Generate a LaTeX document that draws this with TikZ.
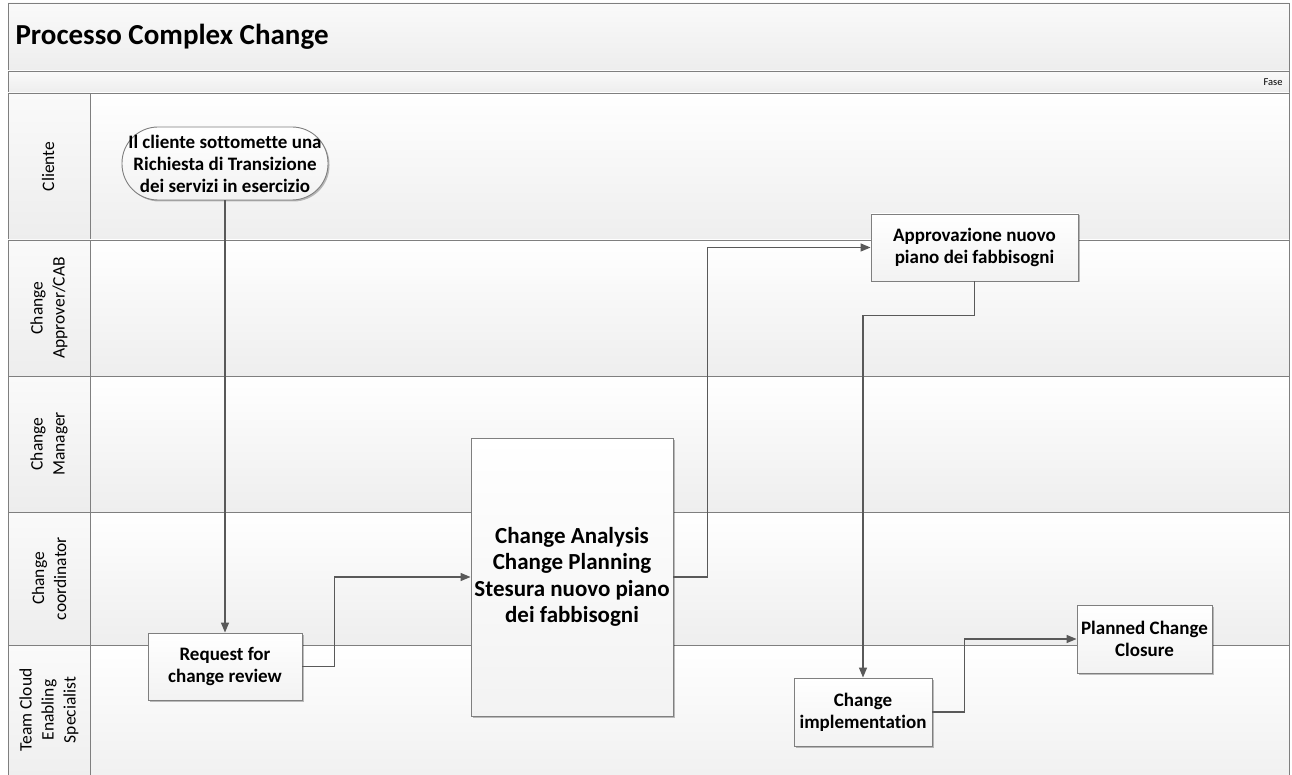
\documentclass[tikz,border=0pt]{standalone}
\usepackage{fontspec}
\setmainfont[Ligatures=NoCommon]{Carlito}
\usetikzlibrary{arrows.meta,shadows}
\definecolor{linec}{HTML}{595959}
\definecolor{borderc}{HTML}{7F7F7F}
\definecolor{lanebot}{HTML}{EEEEEE}
\definecolor{headtop}{HTML}{FAFAFA}
\definecolor{headbot}{HTML}{EDEDED}
\begin{document}
\begin{tikzpicture}[x=1pt,y=-1pt,
  lanebg/.style={top color=white,bottom color=lanebot,draw=borderc,line width=0.9pt},
  headbg/.style={top color=headtop,bottom color=headbot,draw=borderc,line width=0.9pt},
  task/.style={draw=borderc,line width=0.9pt,top color=white,bottom color=black!5,
    drop shadow={shadow xshift=1.5pt,shadow yshift=-1.5pt,opacity=0.25,fill=black},
    align=center,inner sep=0pt,font=\bfseries\fontsize{19}{22}\selectfont},
  flow/.style={draw=linec,line width=1.3pt,-{Triangle[length=10pt,width=8pt]}},
  lanelabel/.style={rotate=90,align=center,font=\fontsize{17.5}{22}\selectfont}]
\useasboundingbox (0,0) rectangle (1292,775);
% header bands
\draw[headbg] (8,3) rectangle (1289,71);
\draw[headbg] (8,71) rectangle (1289,93);
% lanes
\foreach \ya/\yb in {93/240,240/376,376/512,512/645,645/800}{
  \draw[lanebg] (90,\ya) rectangle (1289,\yb);
  \draw[headbg] (8,\ya) rectangle (90,\yb);
}
\node[anchor=west,font=\bfseries\fontsize{29}{33}\selectfont] (title) at (12,37) {Processo Complex Change};
\node[anchor=east,font=\fontsize{10.5}{12}\selectfont] (fase) at (1286,82) {Fase};
\node[lanelabel] (l1) at (48,166.5) {Cliente};
\node[lanelabel] (l2) at (49,308) {Change\\Approver/CAB};
\node[lanelabel] (l3) at (49,444) {Change\\Manager};
\node[lanelabel] (l4) at (49,578.5) {Change\\coordinator};
\node[lanelabel] (l5) at (49,710) {Team Cloud\\Enabling\\Specialist};
% nodes
\node[task,rounded corners=36pt,minimum width=206pt,minimum height=73pt] (start) at (225,163.5)
  {Il cliente sottomette una\\Richiesta di Transizione\\dei servizi in esercizio};
\node[task,minimum width=154pt,minimum height=67pt] (req) at (225,666.5) {Request for\\change review};
\node[task,minimum width=202pt,minimum height=278pt,font=\bfseries\fontsize{23}{26.5}\selectfont] (big) at (572,577)
  {Change Analysis\\Change Planning\\Stesura nuovo piano\\dei fabbisogni};
\node[task,minimum width=207pt,minimum height=67pt] (appr) at (974.5,247.5) {Approvazione nuovo\\piano dei fabbisogni};
\node[task,minimum width=138pt,minimum height=68pt] (impl) at (863,712) {Change\\implementation};
\node[task,minimum width=135pt,minimum height=68pt] (clos) at (1144.5,639) {Planned Change\\Closure};
% connectors
\draw[flow] (start.south) -- (req.north);
\draw[flow] (req.east) -- ++(32,0) |- (big.west);
\draw[flow] (big.east) -- ++(34,0) |- (appr.west);
\draw[flow] (appr.south) -- ++(0,34) -| (impl.north);
\draw[flow] (impl.east) -- ++(32,0) |- (clos.west);
\end{tikzpicture}
\end{document}
